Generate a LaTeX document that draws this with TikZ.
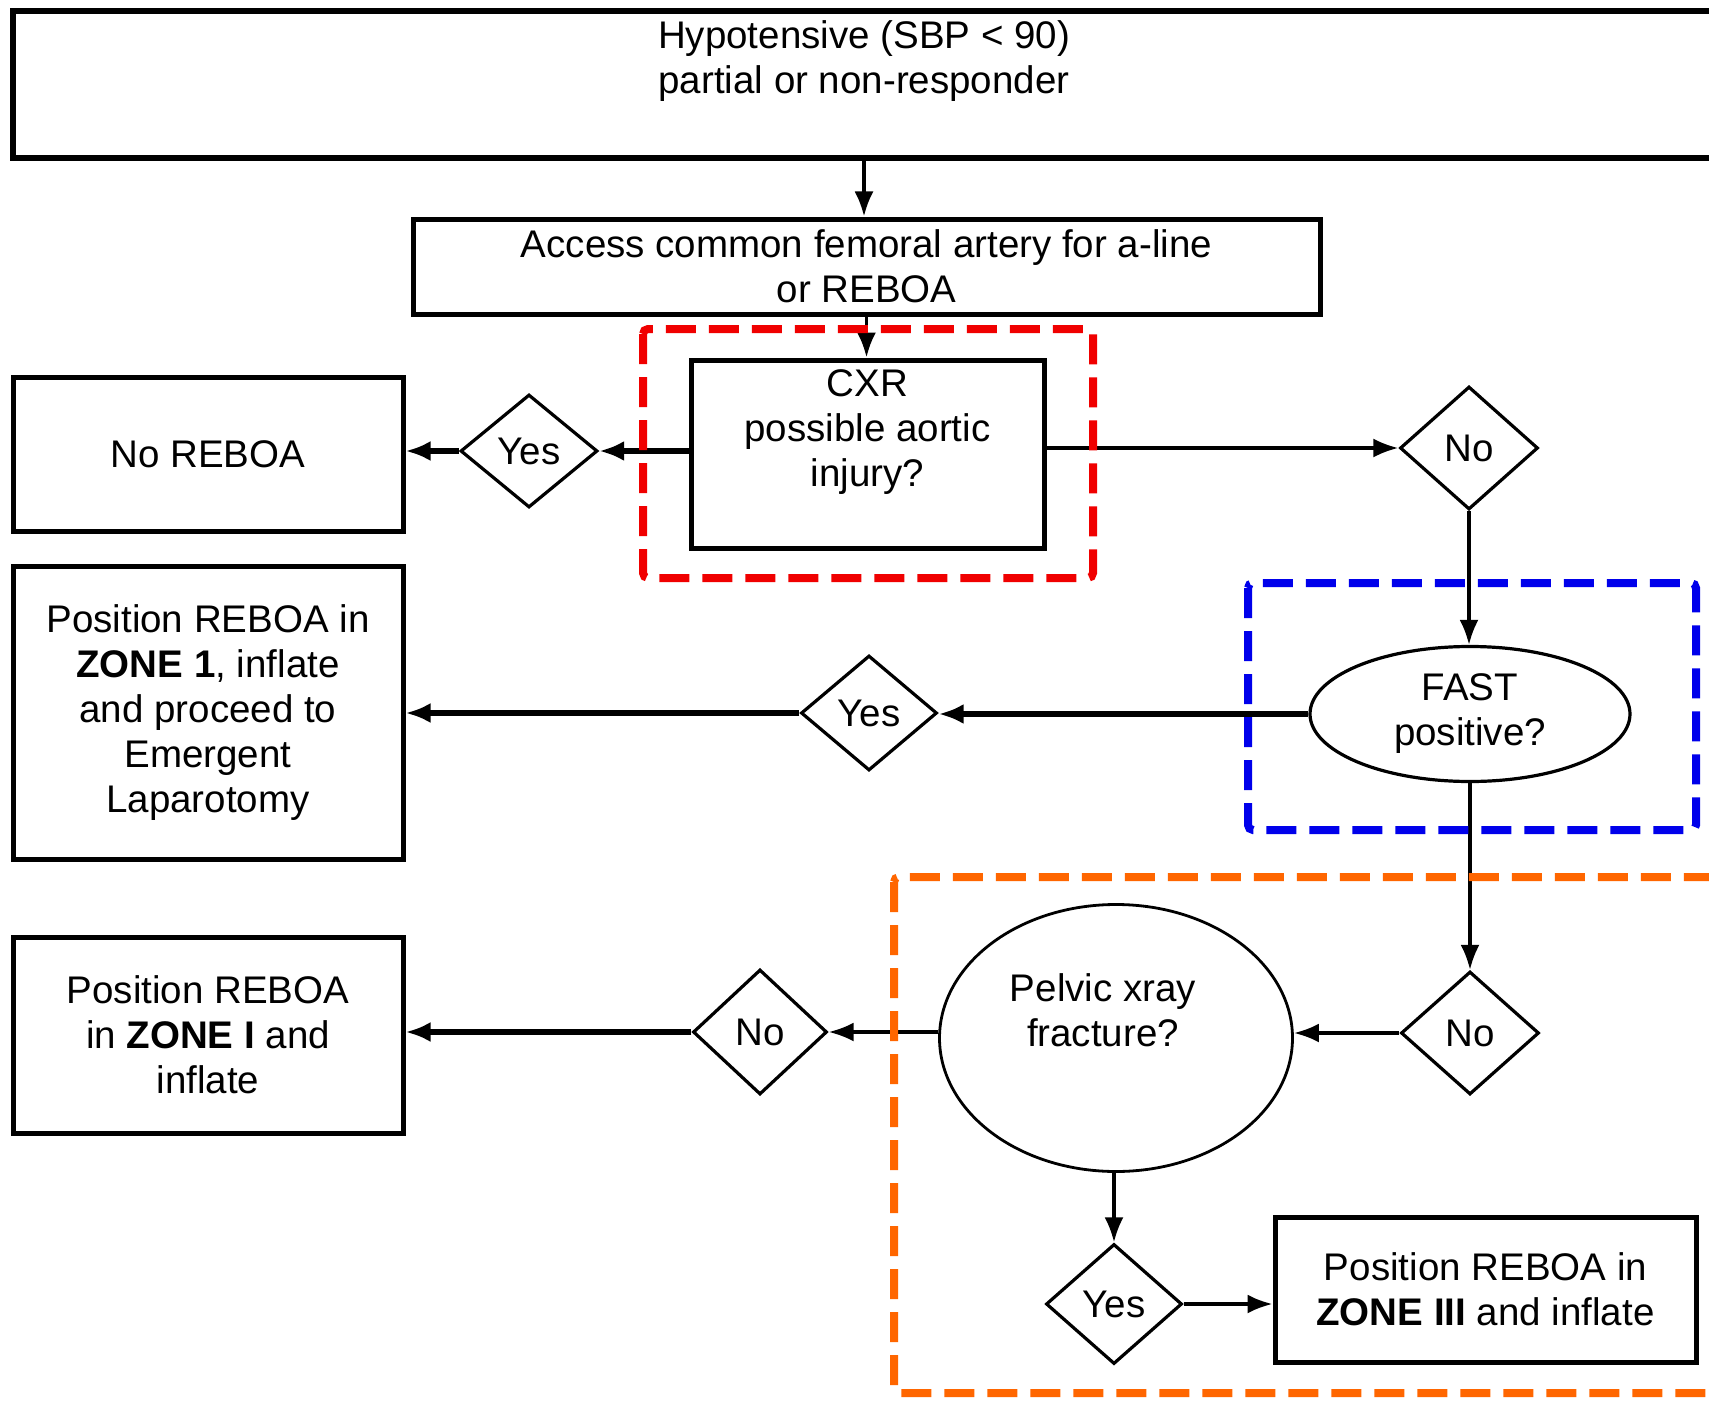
\documentclass[tikz,border=0pt]{standalone}
\usepackage{fontspec}
\setmainfont{Liberation Sans}
\usetikzlibrary{shapes.geometric,arrows.meta}
\definecolor{dred}{RGB}{240,0,0}
\definecolor{dblue}{RGB}{0,0,235}
\definecolor{dorange}{RGB}{255,102,0}
\begin{document}
\begin{tikzpicture}[x=1pt,y=-1pt,
  every node/.style={font=\fontsize{38.5}{45}\selectfont, align=center},
  box/.style={draw, rectangle, line width=5pt, inner sep=0pt},
  dia/.style={draw, diamond, line width=3.2pt, inner sep=0pt},
  ell/.style={draw, ellipse, line width=3.2pt, inner sep=0pt},
  txt/.style={inner sep=0pt},
  arr/.style={line width=3.4pt, -{Latex[length=25pt,width=19pt]}},
  arrthick/.style={line width=5.5pt, -{Latex[length=25pt,width=20pt]}},
  frame/.style={line width=8pt, dash pattern=on 30pt off 13pt, rounded corners=5pt}]
\useasboundingbox (0,0) rectangle (1709,1402);
\clip (0,0) rectangle (1709,1402);
\fill[white] (0,0) rectangle (1709,1402);

% top box
\node[box, line width=6pt, minimum width=1702pt, minimum height=147pt] (top) at (864,84.5) {};
\node[txt] (toptxt) at (864,61) {Hypotensive (SBP < 90)\\partial or non-responder};

% access
\node[box, minimum width=907pt, minimum height=95pt] (access) at (866.5,266.5) {Access common femoral artery for a-line\\or REBOA};
\draw[arr] (top.south) -- (top.south |- access.north);

% CXR
\node[box, minimum width=353pt, minimum height=188pt] (cxr) at (867.5,454) {};
\node[txt] (cxrtxt) at (867.5,432) {CXR\\possible aortic\\injury?};
\draw[arr] (access.south) -- (access.south |- cxr.north);

% No REBOA branch
\node[box, minimum width=390pt, minimum height=154pt] (noreboa) at (208,454) {No REBOA};
\node[dia, minimum width=137pt, minimum height=113pt] (yes1) at (529,451) {Yes};
\draw[arrthick] (cxr.west |- yes1.east) -- (yes1.east);
\draw[arrthick] (yes1.west) -- (yes1.west -| noreboa.east);

% No branch
\node[dia, minimum width=138pt, minimum height=123pt] (no1) at (1469,448) {No};
\draw[arr] (cxr.east |- no1.west) -- (no1.west);

% FAST
\node[ell, minimum width=320pt, minimum height=135pt] (fast) at (1470,714) {FAST\\positive?};
\draw[arr] (no1.south) -- (no1.south |- fast.north);

\node[dia, minimum width=136pt, minimum height=115pt] (yes2) at (869,713) {Yes};
\draw[arrthick] (fast.west) -- (fast.west -| yes2.east);
\node[box, minimum width=390pt, minimum height=293pt] (pos1) at (208,712.5) {Position REBOA in\\\textbf{ZONE 1}, inflate\\and proceed to\\Emergent\\Laparotomy};
\draw[arrthick] (yes2.west) -- (yes2.west -| pos1.east);

% No after FAST
\node[dia, minimum width=138pt, minimum height=123pt] (no2) at (1470,1033) {No};
\draw[arr] (fast.south) -- (fast.south |- no2.north);

% Pelvic
\node[ell, line width=2.8pt, minimum width=353pt, minimum height=267pt] (pelvic) at (1116,1038) {};
\node[txt] (pelvictxt) at (1103,1010) {Pelvic xray\\fracture?};
\draw[arr] (no2.west) -- (no2.west -| pelvic.east);

\node[dia, minimum width=134pt, minimum height=125pt] (no3) at (760,1032) {No};
\draw[arr] (pelvic.west |- no3.east) -- (no3.east);
\node[box, minimum width=390pt, minimum height=196pt] (pos2) at (208,1035) {Position REBOA\\in \textbf{ZONE I} and\\inflate};
\draw[arrthick] (no3.west) -- (no3.west -| pos2.east);

\node[dia, minimum width=136pt, minimum height=120pt] (yes3) at (1114,1304) {Yes};
\draw[arr] (yes3.north |- pelvic.south) -- (yes3.north);
\node[box, minimum width=421pt, minimum height=145pt] (zone3) at (1485.5,1289.5) {Position REBOA in\\\textbf{ZONE III} and inflate};
\draw[arr] (yes3.east) -- (yes3.east -| zone3.west);

% highlight frames
\draw[frame, dred] (643,329) rectangle (1093,578);
\draw[frame, dblue] (1248,583) rectangle (1696,830);
\draw[frame, dorange] (894,877) rectangle (1740,1393);
\end{tikzpicture}
\end{document}
